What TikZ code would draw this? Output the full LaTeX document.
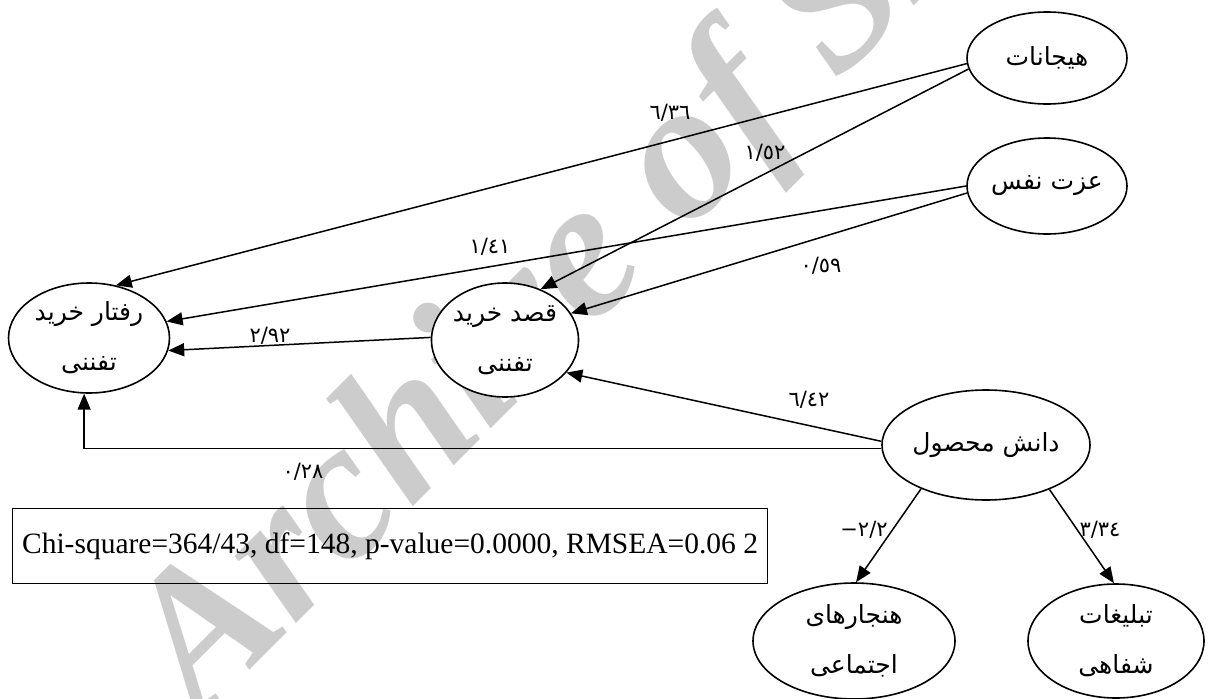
\documentclass[tikz,border=0pt]{standalone}
\usepackage{fontspec}
\setmainfont{Liberation Serif}
\newfontfamily\arabicfont[Script=Arabic]{DejaVu Sans}
\usetikzlibrary{shapes.geometric,arrows.meta}
\TeXXeTstate=1

\begin{document}
\begin{tikzpicture}[x=1pt,y=-1pt,
  latent/.style={ellipse, draw, line width=1.6pt, fill=white, inner sep=0pt,
    align=center, font=\arabicfont\fontsize{25}{50}\selectfont},
  link/.style={line width=1.5pt, -{Triangle[length=16pt,width=13pt]}},
  coef/.style={font=\arabicfont\fontsize{21}{22}\selectfont, inner sep=0pt}]

\useasboundingbox (0,0) rectangle (1208,699);

% background watermark
\node[rotate=45, anchor=base west, text=black!20, inner sep=0pt,
  font=\fontsize{198}{198}\selectfont\bfseries\itshape] (wm) at (200,720) {Archive of SID};

% latent variables
\node[latent, minimum width=160pt, minimum height=92pt]  (H) at (1047,58)  {\beginR هیجانات\endR};
\node[latent, minimum width=160pt, minimum height=96pt]  (E) at (1047,186) {\beginR عزت نفس\endR};
\node[latent, minimum width=161pt, minimum height=110pt] (B) at (89,338)   {\beginR رفتار خرید\endR\\\beginR تفننی\endR};
\node[latent, minimum width=144pt, minimum height=114pt] (I) at (505,340)  {\beginR قصد خرید\endR\\\beginR تفننی\endR};
\node[latent, minimum width=200pt, minimum height=110pt] (K) at (986,445)  {\beginR دانش محصول\endR};
\node[latent, minimum width=202pt, minimum height=116pt] (N) at (854,641)  {\beginR هنجارهای\endR\\\beginR اجتماعی\endR};
\node[latent, minimum width=176pt, minimum height=114pt] (T) at (1116,641) {\beginR تبلیغات\endR\\\beginR شفاهی\endR};

% fit statistics
\node[draw, line width=1.2pt, anchor=north west, minimum width=755pt, minimum height=75pt,
  inner sep=0pt, font=\fontsize{29.5}{32}\selectfont] (fit) at (12,508)
  {Chi-square=364/43, df=148, p-value=0.0000, RMSEA=0.06 2};

% paths
\draw[link] (H.184) -- (B.63);
\draw[link] (H.188) -- (I.55);
\draw[link] (E.180) -- (B.12);
\draw[link] (E.185) -- (I.22);
\draw[link] (I.178) -- (B.-9);
\draw[link] (K.178) -- (I.-28);
\draw[link] (K.182) -| (B.265);
\draw[link] (K.214) -- (N.88);
\draw[link] (K.325) -- (T.92);

% path coefficients
\node[coef] (c1) at (670,113)  {٦/٣٦};
\node[coef] (c2) at (765,153)  {١/٥٢};
\node[coef] (c3) at (490,247)  {١/٤١};
\node[coef] (c4) at (821,266)  {٠/٥٩};
\node[coef] (c5) at (270,336)  {٢/٩٢};
\node[coef] (c6) at (809,400)  {٦/٤٢};
\node[coef] (c7) at (303,472)  {٠/٢٨};
\node[coef] (c8) at (864,530)  {\hbox{−}\hbox{٢/٢}};
\node[coef] (c9) at (1100,530) {٣/٣٤};
\end{tikzpicture}
\end{document}
